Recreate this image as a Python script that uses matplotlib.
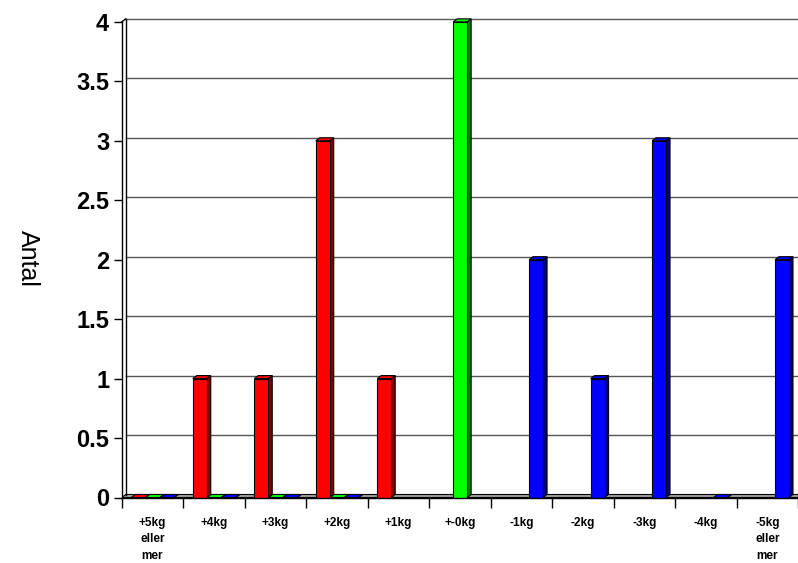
import matplotlib
matplotlib.use('Agg')
import matplotlib.pyplot as plt
from matplotlib.patches import Polygon
import numpy as np

plt.rcParams['font.family'] = ['Liberation Sans', 'DejaVu Sans']

# weight change categories and counts per series (None = no bar)
categories = ['+5kg\neller\nmer', '+4kg', '+3kg', '+2kg', '+1kg', '+-0kg',
              '-1kg', '-2kg', '-3kg', '-4kg', '-5kg\neller\nmer']
gain = [0, 1, 1, 3, 1, None, None, None, None, None, None]
same = [0, 0, 0, 0, None, 4, None, None, None, None, None]
loss = [0, 0, 0, 0, None, None, 2, 1, 3, 0, 2]
yticks = [0, 0.5, 1, 1.5, 2, 2.5, 3, 3.5, 4]

series = [
    (gain, '#ff0000', '#800000', 0.27),
    (same, '#00ff00', '#008000', 0.505),
    (loss, '#0000ff', '#000080', 0.74),
]

W, H = 798, 563
fig = plt.figure(figsize=(W / 100, H / 100), dpi=100)

x0_px, y0_px = 121.7, 497.5
cat_px = 61.6
unit_px = 118.9
ytop = 4.04
ax = fig.add_axes([x0_px / W, (H - y0_px) / H,
                   (W - x0_px) / W, ytop * unit_px / H])
ax.set_xlim(0, (W - x0_px) / cat_px)
ax.set_ylim(0, ytop)
for s in ax.spines.values():
    s.set_visible(False)

# depth of the fake 3d look
dx = 4 / cat_px
dy = 3 / unit_px
bw = 0.227

# floor
ax.add_patch(Polygon([(0, 0), (11, 0), (11 + dx, dy), (dx, dy)],
                     closed=True, facecolor='#a0a0a0', edgecolor='black',
                     lw=0.8, zorder=1))
# back wall gridlines and left wall
for v in yticks[1:]:
    ax.plot([dx, 11 + dx], [v + dy, v + dy], color='#555555', lw=1.0, zorder=1)
ax.plot([dx, dx], [dy, 4 + dy], color='black', lw=1.0, zorder=1)
ax.plot([0, 0], [0, 4], color='black', lw=1.0, zorder=4, clip_on=False)
ax.plot([0, dx], [4, 4 + dy], color='black', lw=1.0, zorder=4, clip_on=False)

for values, front, side, off in series:
    for i, v in enumerate(values):
        if v is None:
            continue
        l = i + off - bw / 2
        r = l + bw
        ax.add_patch(Polygon([(r, 0), (r + dx, dy), (r + dx, v + dy), (r, v)],
                             closed=True, facecolor=side, edgecolor='black',
                             lw=0.8, zorder=3))
        ax.add_patch(Polygon([(l, v), (r, v), (r + dx, v + dy), (l + dx, v + dy)],
                             closed=True, facecolor=front, edgecolor='black',
                             lw=0.8, zorder=3))
        if v > 0:
            ax.add_patch(Polygon([(l, 0), (r, 0), (r, v), (l, v)],
                                 closed=True, facecolor=front, edgecolor='black',
                                 lw=0.8, zorder=3))

ax.plot([0, 11], [0, 0], color='black', lw=1.0, zorder=4, clip_on=False)

ax.set_yticks(yticks)
ax.set_yticklabels(['%g' % t for t in yticks], fontsize=17, fontweight='bold')
ax.tick_params(axis='y', length=6, width=1, pad=3)

ax.set_xticks(np.arange(12))
ax.set_xticklabels([])
ax.set_xticks(np.arange(11) + 0.5, minor=True)
ax.set_xticklabels(categories, minor=True, fontsize=8.5, fontweight='bold',
                   linespacing=1.5, va='top')
ax.tick_params(axis='x', which='major', length=7, width=1)
ax.tick_params(axis='x', which='minor', length=0, pad=14)

fig.text(28 / W, 1 - 258 / H, 'Antal', rotation=270, fontsize=18,
         ha='center', va='center')

fig.savefig('out.png', dpi=100)
